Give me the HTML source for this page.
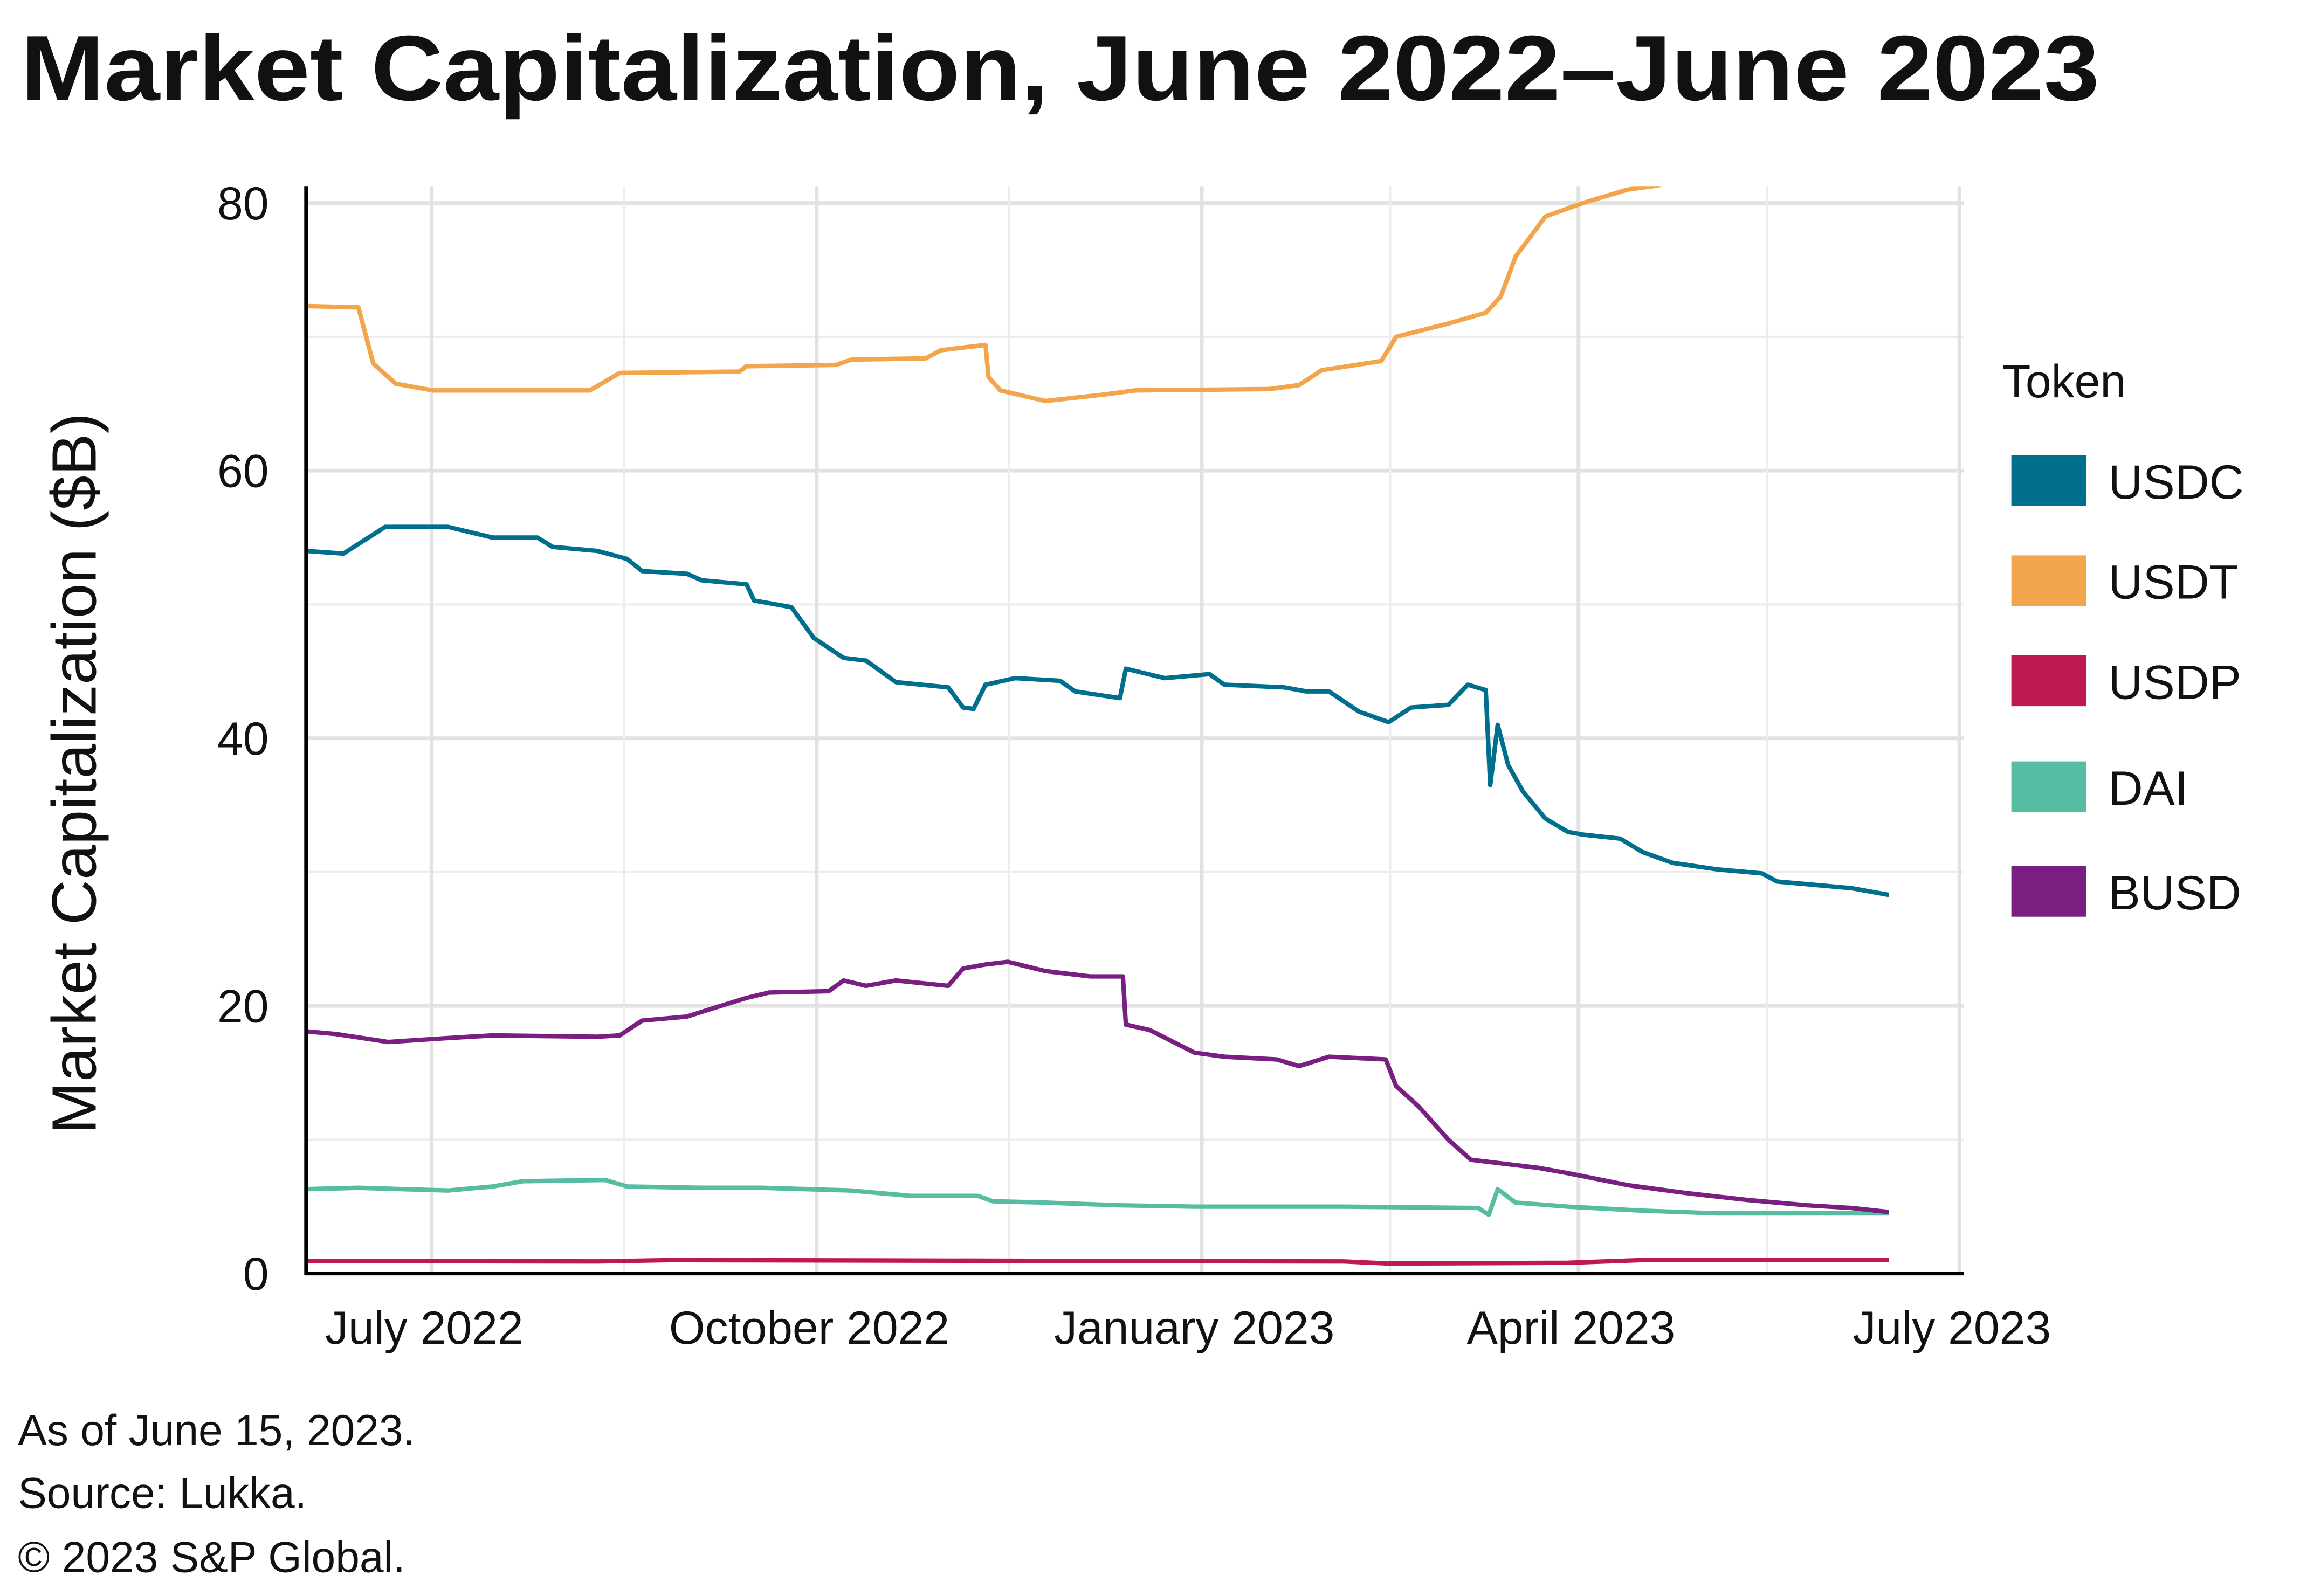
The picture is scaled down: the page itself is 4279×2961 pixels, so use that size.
<!DOCTYPE html>
<html><head><meta charset="utf-8"><style>
html,body{margin:0;padding:0;background:#fff}
svg{display:block}
text{font-family:"Liberation Sans",sans-serif;fill:#111}
</style></head><body>
<svg width="4279" height="2961" viewBox="0 0 1545 1069" preserveAspectRatio="none" xmlns="http://www.w3.org/2000/svg">
<defs><clipPath id="plotclip"><rect x="205" y="125" width="1110" height="740"/></clipPath></defs>
<rect width="1545" height="1069" fill="#fff"/>
<text x="14" y="67" font-size="62" font-weight="bold" textLength="1392" lengthAdjust="spacingAndGlyphs">Market Capitalization, June 2022–June 2023</text>
<g id="grid"></g>
<g id="series" clip-path="url(#plotclip)"></g>
<line x1="205" y1="125" x2="205" y2="854" stroke="#000" stroke-width="2.5"/>
<line x1="204" y1="853" x2="1315" y2="853" stroke="#000" stroke-width="2.5"/>
<g id="yticks"></g>
<g id="xticks"></g>
<text transform="translate(64,518) rotate(-90)" text-anchor="middle" font-size="42">Market Capitalization ($B)</text>
<g>
<text x="1341" y="266" font-size="31">Token</text>
<g id="legend"></g>
</g>
<text x="12" y="968" font-size="29">As of June 15, 2023.</text>
<text x="12" y="1010" font-size="29">Source: Lukka.</text>
<text x="12" y="1053" font-size="29">© 2023 S&amp;P Global.</text>
</svg>
<script>
const NS="http://www.w3.org/2000/svg";
const yTicks=[0,20,40,60,80];
const yMinor=[10,30,50,70];
const xTickDays=[30,122,214,304,395];
const xTickLabels=["July 2022","October 2022","January 2023","April 2023","July 2023"];
const xMinorDays=[76,168,259,349];
const tokens=["USDC","USDT","USDP","DAI","BUSD"];
const colors=["#006f8e","#f2a54a","#c0194f","#57bda2","#7a1f82"];
const usdtX=[205,240,250,265,290,395,415,495,500,560,570,620,630,660,662,670,700,740,760,850,870,885,925,935,970,995,1005,1015,1035,1060,1090,1110,1130,1265];
const usdtV=[72.3,72.2,68,66.5,66,66,67.3,67.4,67.8,67.9,68.3,68.4,69,69.4,67,66,65.2,65.7,66,66.1,66.4,67.5,68.2,70,71,71.8,73,76,79,80,81,81.3,82,84];
const usdcX=[205,230,258,300,330,360,370,400,420,430,460,470,500,505,530,545,565,580,600,635,645,652,660,680,710,720,750,754,780,810,820,860,875,890,910,930,945,970,983,995,998,1003,1010,1020,1035,1050,1060,1085,1100,1120,1150,1180,1190,1220,1240,1265];
const usdcV=[54,53.8,55.8,55.8,55,55,54.3,54,53.4,52.5,52.3,51.8,51.5,50.3,49.8,47.5,46,45.8,44.2,43.8,42.3,42.2,44,44.5,44.3,43.5,43,45.2,44.5,44.8,44,43.8,43.5,43.5,42,41.2,42.3,42.5,44,43.6,36.5,41,38,36,34,33,32.8,32.5,31.5,30.7,30.2,29.9,29.3,29,28.8,28.3];
const busdX=[205,225,260,300,330,400,415,430,460,480,500,515,555,565,580,600,635,645,660,675,700,730,752,754,770,800,820,855,870,890,928,935,950,970,985,1000,1030,1050,1090,1130,1170,1210,1240,1265];
const busdV=[18.1,17.9,17.3,17.6,17.8,17.7,17.8,18.9,19.2,19.9,20.6,21,21.1,21.9,21.5,21.9,21.5,22.8,23.1,23.3,22.6,22.2,22.2,18.6,18.2,16.5,16.2,16,15.5,16.2,16,14,12.5,10,8.5,8.3,7.9,7.5,6.6,6,5.5,5.1,4.9,4.6];
const daiX=[205,240,300,330,350,405,420,470,510,570,610,655,665,700,750,800,900,990,997,1003,1015,1050,1100,1150,1265];
const daiV=[6.3,6.4,6.2,6.5,6.9,7.0,6.5,6.4,6.4,6.2,5.8,5.8,5.4,5.3,5.1,5.0,5.0,4.9,4.4,6.3,5.3,5.0,4.7,4.5,4.5];
const usdpX=[205,400,450,700,900,930,1050,1100,1265];
const usdpV=[0.95,0.9,1.0,0.95,0.9,0.75,0.8,1.0,1.0];
const dayOf=px=>(px-205)/2.803;
const X=d=>205+2.803*d, Y=v=>853-8.9625*v;
function el(t,a,p){const e=document.createElementNS(NS,t);for(const k in a)e.setAttribute(k,a[k]);p.appendChild(e);return e;}
const grid=document.getElementById('grid');
yMinor.forEach(v=>{const l=el('line',{x1:205,x2:1315,y1:Y(v),y2:Y(v),stroke:'#ededed','stroke-width':1.5},grid);

});
yTicks.forEach(v=>{const l=el('line',{x1:205,x2:1315,y1:Y(v),y2:Y(v),stroke:'#e2e2e2','stroke-width':2.5},grid);

});
xMinorDays.forEach(d=>{const l=el('line',{x1:X(d),x2:X(d),y1:125,y2:853,stroke:'#ededed','stroke-width':1.5},grid);

});
xTickDays.forEach(d=>{const l=el('line',{x1:X(d),x2:X(d),y1:125,y2:853,stroke:'#e2e2e2','stroke-width':2.5},grid);

});
const yt=document.getElementById('yticks');
yTicks.forEach(v=>{const t=el('text',{x:180,y:Y(v)+11,'text-anchor':'end','font-size':31},yt);t.textContent=v;

});
const xt=document.getElementById('xticks');
xTickDays.forEach((d,i)=>{const t=el('text',{x:X(d)-5,y:900,'text-anchor':'middle','font-size':31},xt);t.textContent=xTickLabels[i];

});
const sg=document.getElementById('series');
const sets=[[usdpX,usdpV,2],[daiX,daiV,3],[busdX,busdV,4],[usdcX,usdcV,0],[usdtX,usdtV,1]];
sets.forEach(([xs,vs,ci])=>{
 const pts=xs.map((px,i)=>X(dayOf(px)).toFixed(1)+','+Y(vs[i]).toFixed(1)).join(' ');
 const p=el('polyline',{points:pts,fill:'none',stroke:colors[ci],'stroke-width':3,'stroke-linejoin':'round'},sg);
 
 
});
const lg=document.getElementById('legend');
const ly=[322,389,456,527,597];
tokens.forEach((t,i)=>{
 const r=el('rect',{x:1347,y:ly[i]-17,width:50,height:34,fill:colors[i]},lg);
 
 
 const tx=el('text',{x:1412,y:ly[i]+12,'font-size':32},lg);tx.textContent=t;
 
 
});
</script>
</body></html>
